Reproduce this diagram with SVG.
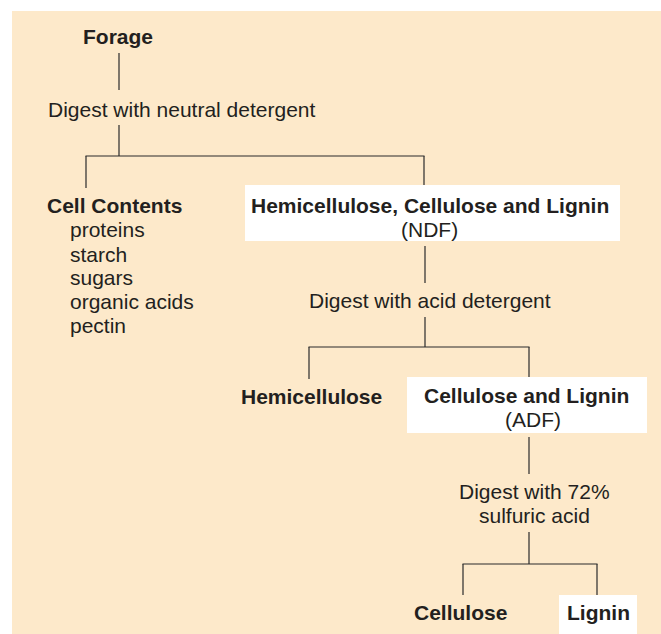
<svg xmlns="http://www.w3.org/2000/svg" width="661" height="634" viewBox="0 0 661 634">
  <style>
    text { font-family: "Liberation Sans", Arial, Helvetica, sans-serif; font-size: 21px; fill: #231f20; }
    .b { font-weight: bold; }
    .box { fill: #ffffff; }
    .conn line { stroke: #2b2b2b; stroke-width: 1.2; fill: none; }
  </style>
  <rect x="12" y="11" width="649" height="623" fill="#fde9ca"/>
  <g id="connectors" class="conn">
    <line x1="119" y1="53" x2="119" y2="90"/>
    <line x1="119" y1="125" x2="119" y2="156"/>
    <line x1="85.5" y1="156" x2="424.5" y2="156"/>
    <line x1="86" y1="156" x2="86" y2="188"/>
    <line x1="424" y1="156" x2="424" y2="185"/>
    <line x1="425" y1="246" x2="425" y2="283"/>
    <line x1="425" y1="317" x2="425" y2="347"/>
    <line x1="308.5" y1="347" x2="529.5" y2="347"/>
    <line x1="309" y1="347" x2="309" y2="379"/>
    <line x1="529" y1="347" x2="529" y2="377"/>
    <line x1="529" y1="437" x2="529" y2="474"/>
    <line x1="529" y1="532" x2="529" y2="564"/>
    <line x1="462.5" y1="564" x2="597.5" y2="564"/>
    <line x1="463" y1="564" x2="463" y2="595"/>
    <line x1="597" y1="564" x2="597" y2="595"/>
  </g>
  <g id="forage">
    <text class="b" x="83" y="44">Forage</text>
  </g>
  <g id="step-neutral">
    <text x="48" y="117">Digest with neutral detergent</text>
  </g>
  <g id="cell-contents">
    <text class="b" x="47" y="213">Cell Contents</text>
    <text x="70" y="237">proteins</text>
    <text x="70" y="261.5">starch</text>
    <text x="70" y="285">sugars</text>
    <text x="70" y="309">organic acids</text>
    <text x="70" y="333">pectin</text>
  </g>
  <g id="ndf">
    <rect class="box" x="245" y="185" width="375" height="56"/>
    <text class="b" x="251" y="213">Hemicellulose, Cellulose and Lignin</text>
    <text x="401" y="237">(NDF)</text>
  </g>
  <g id="step-acid">
    <text x="309" y="308">Digest with acid detergent</text>
  </g>
  <g id="hemicellulose">
    <text class="b" x="241" y="404">Hemicellulose</text>
  </g>
  <g id="adf">
    <rect class="box" x="407" y="377" width="240" height="56"/>
    <text class="b" x="424" y="403">Cellulose and Lignin</text>
    <text x="505" y="427">(ADF)</text>
  </g>
  <g id="step-sulfuric">
    <text x="459" y="499">Digest with 72%</text>
    <text x="479" y="523">sulfuric acid</text>
  </g>
  <g id="cellulose">
    <text class="b" x="414" y="620">Cellulose</text>
  </g>
  <g id="lignin">
    <rect class="box" x="559" y="595" width="78" height="39"/>
    <text class="b" x="567" y="620">Lignin</text>
  </g>
</svg>
